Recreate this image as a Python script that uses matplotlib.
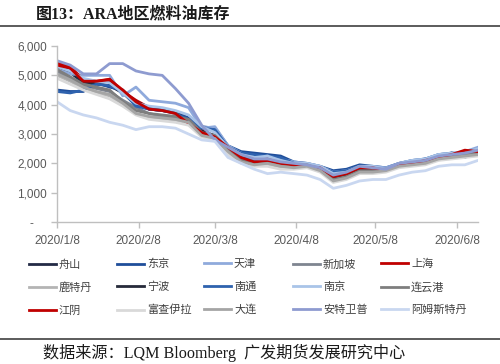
import numpy as np
import pandas as pd
import matplotlib
matplotlib.use("Agg")
import matplotlib.pyplot as plt
import matplotlib.dates as mdates
from matplotlib.ticker import FixedLocator, FuncFormatter

plt.rcParams['font.family'] = ['Liberation Sans', 'Noto Sans CJK SC']

# Dates: one point every 5 days from 2020/1/8
dates = pd.date_range('2020-01-08', periods=33, freq='5D')

# Series values (kt)
zhoushan = [5300, 5100, 4750, 4700, 4650, 4400, 4000, 3850, 3800, 3720, 3350, 3050, 2800, 2450, 2200, 2050,
            2100, 2000, 1950, 1900, 1800, 1550, 1650, 1850, 1800, 1800, 1950, 2050, 2100, 2250, 2300, 2350, 2400]
dongjing = [4500, 4450, 4450, 4750, 4600, 4500, 4050, 3850, 3800, 3750, 3550, 3250, 3200, 2600, 2400, 2350,
            2300, 2250, 2050, 2000, 1900, 1750, 1800, 1950, 1900, 1850, 2000, 2100, 2150, 2300, 2350, 2250, 2300]
tianjin = [5200, 5050, 5000, 5000, 5000, 4300, 4600, 4150, 4100, 4050, 3900, 3200, 3250, 2600, 2350, 2200,
           2250, 2150, 2050, 2000, 1900, 1700, 1750, 1900, 1900, 1850, 2000, 2100, 2150, 2300, 2350, 2400, 2550]
xinjiapo = [5150, 4900, 4650, 4550, 4450, 4150, 3900, 3700, 3600, 3550, 3450, 3050, 2950, 2450, 2150, 2000,
            2050, 1950, 1900, 1950, 1800, 1500, 1600, 1750, 1750, 1800, 1950, 2000, 2050, 2200, 2250, 2300, 2350]
shanghai = [5420, 5300, 4850, 4800, 4870, 4450, 4150, 3900, 3830, 3750, 3400, 3120, 2850, 2520, 2250, 2100,
            2150, 2050, 1980, 1960, 1880, 1620, 1680, 1850, 1820, 1780, 1980, 2050, 2100, 2250, 2300, 2400, 2450]
lutedan = [5000, 4800, 4550, 4400, 4300, 4000, 3700, 3550, 3500, 3450, 3350, 2950, 2850, 2350, 2050, 1950,
           1950, 1850, 1850, 1900, 1750, 1400, 1500, 1700, 1700, 1750, 1900, 1950, 2000, 2150, 2200, 2250, 2300]
ningbo = [5300, 5200, 4800, 4750, 4800, 4450, 4100, 3900, 3850, 3750, 3450, 3100, 2950, 2500, 2250, 2100,
          2100, 2000, 1950, 1920, 1820, 1500, 1600, 1800, 1850, 1750, 1950, 2000, 2100, 2250, 2350, 2300, 2400]
nantong = [4450, 4400, 4500, 4700, 4650, 4450, 3950, 3850, 3800, 3700, 3500, 3200, 3150, 2550, 2350, 2300,
           2250, 2200, 2000, 1950, 1850, 1700, 1750, 1900, 1850, 1800, 2000, 2050, 2150, 2250, 2350, 2200, 2450]
nanjing = [5300, 5150, 4900, 4800, 4750, 4400, 4050, 3950, 3900, 3800, 3650, 3250, 3050, 2550, 2300, 2200,
           2250, 2100, 2000, 2000, 1900, 1650, 1700, 1900, 1900, 1800, 2000, 2100, 2150, 2300, 2350, 2350, 2500]
lianyungang = [5200, 4950, 4700, 4600, 4500, 4100, 3800, 3700, 3650, 3600, 3500, 3050, 2950, 2500, 2100, 2000,
               2050, 1950, 1900, 1950, 1800, 1450, 1550, 1750, 1750, 1750, 1950, 2000, 2050, 2200, 2250, 2300, 2350]
jiangyin = [5350, 5250, 4800, 4800, 4850, 4500, 4100, 3850, 3800, 3700, 3350, 3050, 2900, 2550, 2200, 2050,
            2100, 2000, 1950, 1900, 1850, 1550, 1650, 1850, 1850, 1750, 1950, 2000, 2100, 2200, 2300, 2450, 2400]
fujairah = [4900, 4700, 4500, 4350, 4200, 3950, 3650, 3500, 3450, 3400, 3300, 2900, 2800, 2300, 2000, 1900,
            1900, 1800, 1800, 1850, 1700, 1350, 1450, 1650, 1650, 1700, 1850, 1900, 1950, 2100, 2150, 2200, 2250]
dalian = [5050, 4850, 4600, 4450, 4350, 4050, 3700, 3600, 3550, 3500, 3400, 2950, 2850, 2400, 2050, 1950,
          2000, 1900, 1850, 1900, 1750, 1400, 1500, 1700, 1700, 1750, 1900, 1950, 2000, 2150, 2200, 2250, 2300]
antwerp = [5500, 5350, 5050, 5050, 5400, 5400, 5150, 5050, 5000, 4550, 4050, 3300, 2800, 2550, 2300, 2150,
           2150, 2050, 2000, 1950, 1850, 1600, 1700, 1900, 1850, 1800, 2000, 2050, 2100, 2250, 2300, 2350, 2450]
amsterdam = [4100, 3800, 3650, 3550, 3400, 3300, 3150, 3250, 3250, 3200, 3000, 2800, 2750, 2200, 2000, 1800,
             1650, 1700, 1650, 1600, 1450, 1150, 1250, 1400, 1450, 1450, 1600, 1700, 1750, 1900, 1950, 1950, 2100]

names = ['舟山', '东京', '天津', '新加坡', '上海', '鹿特丹', '宁波', '南通', '南京', '连云港',
         '江阴', '富查伊拉', '大连', '安特卫普', '阿姆斯特丹']
series = [zhoushan, dongjing, tianjin, xinjiapo, shanghai, lutedan, ningbo, nantong, nanjing, lianyungang,
          jiangyin, fujairah, dalian, antwerp, amsterdam]
colors = ['#232A45', '#1F4E9A', '#8FAADC', '#7F8590', '#C00000', '#B4B4B4', '#262A3A', '#2E62AE',
          '#A9C4E8', '#7E7E7E', '#C00000', '#D9D9D9', '#A5A5A5', '#8E9BD0', '#C9D7F0']

xticks = ['2020-01-08', '2020-02-08', '2020-03-08', '2020-04-08', '2020-05-08', '2020-06-08']
yticks = [0, 1000, 2000, 3000, 4000, 5000, 6000]

fig = plt.figure(figsize=(5.0, 3.64), dpi=100)
ax = fig.add_axes([0.114, 0.390, 0.842, 0.4836])

lines = []
for vals, name, c in zip(series, names, colors):
    ln, = ax.plot(dates, vals, color=c, lw=2.0, label=name, solid_joinstyle='round')
    lines.append(ln)

ax.set_ylim(0, 6000)
ax.set_xlim(dates[0], dates[-1])
ax.yaxis.set_major_locator(FixedLocator(yticks))
ax.yaxis.set_major_formatter(FuncFormatter(lambda v, p: '-    ' if v == 0 else f'{int(v):,}'))
ax.set_xticks(pd.to_datetime(xticks))
ax.xaxis.set_major_formatter(FuncFormatter(
    lambda v, p: '{0}/{1}/{2}'.format(*[int(s) for s in mdates.num2date(v).strftime('%Y %m %d').split()])))

for s in ['top', 'right']:
    ax.spines[s].set_visible(False)
for s in ['left', 'bottom']:
    ax.spines[s].set_color('#BFBFBF')
    ax.spines[s].set_linewidth(1.0)
ax.tick_params(axis='both', colors='#BFBFBF', labelcolor='#595959', labelsize=8.5, length=4, width=1.0)
ax.tick_params(axis='y', pad=3)
ax.tick_params(axis='x', pad=5)

# legend: 5 columns, 3 rows, filled row by row
col_x = [29, 117, 204, 293, 381]
for col in range(5):
    hs = [lines[row * 5 + col] for row in range(3)]
    fig.legend(handles=hs, loc='upper left', bbox_to_anchor=(col_x[col] / 500, 1 - 259 / 364),
               frameon=False, fontsize=8, handlelength=2.45, handletextpad=0.25, borderpad=0,
               borderaxespad=0, labelspacing=1.12, labelcolor='#404040')

# title and rules
fig.text(36 / 500, 1 - 14 / 364, '图13：ARA地区燃料油库存', fontsize=11.5, fontweight='bold', va='center',
         ha='left', family=['Liberation Serif', 'Noto Sans CJK SC'], color='#1A1A1A')
fig.add_artist(plt.Line2D([0, 1], [1 - 26 / 364, 1 - 26 / 364], color='#404040', lw=1.2))
fig.add_artist(plt.Line2D([0, 1], [1 - 339 / 364, 1 - 339 / 364], color='#404040', lw=1.2))
fig.text(43 / 500, 1 - 353 / 364, '数据来源：LQM Bloomberg  广发期货发展研究中心', fontsize=11.6, va='center',
         ha='left', family=['Liberation Serif', 'Noto Sans CJK SC'], color='#1A1A1A')

fig.savefig('out.png', dpi=100)
